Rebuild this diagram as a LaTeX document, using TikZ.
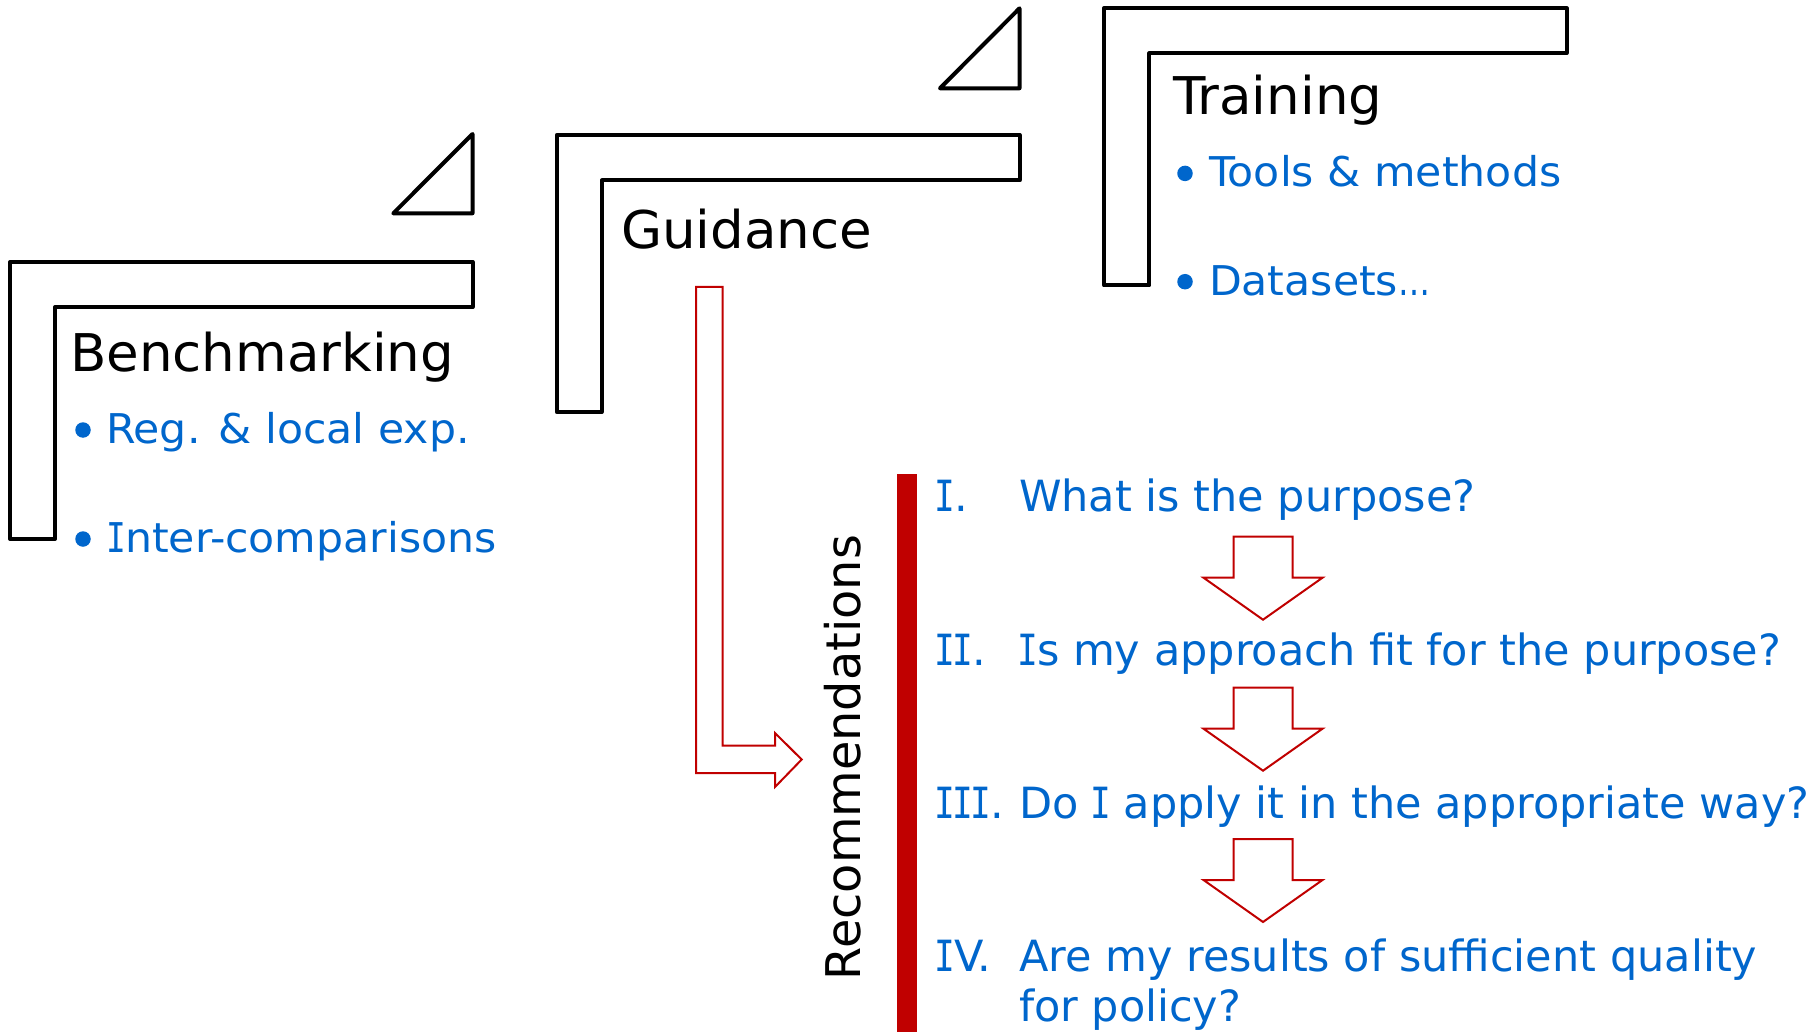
\documentclass[tikz,border=0pt]{standalone}
\usepackage{fontspec}
\setmainfont{DejaVu Sans}
\newfontfamily\titlefont[FakeStretch=1.02]{DejaVu Sans}
\newfontfamily\itemfont[FakeStretch=1.04]{DejaVu Sans}
\newfontfamily\serifIfont{DejaVu Sans Mono}
\newcommand{\serI}{\makebox[0.42em][c]{\scalebox{0.8}[1]{\serifIfont I}}}
\definecolor{txtblue}{HTML}{0066CC}
\definecolor{barred}{HTML}{C00000}
\begin{document}
\begin{tikzpicture}[x=1pt,y=-1pt,
  frame/.style={draw=black,line width=4pt,line join=round},
  title/.style={anchor=base west,inner sep=0pt,outer sep=0pt,font=\titlefont\fontsize{52}{60}\selectfont},
  item/.style={anchor=base west,inner sep=0pt,outer sep=0pt,text=txtblue,font=\itemfont\fontsize{41}{48}\selectfont},
  bul/.style={circle,fill=txtblue,inner sep=0pt,minimum size=15.5pt},
  ques/.style={anchor=base west,inner sep=0pt,outer sep=0pt,text=txtblue,font=\fontsize{43}{50}\selectfont},
  blockarrow/.style={draw=barred,line width=2pt,line join=miter,fill=white}
]
\useasboundingbox (0,0) rectangle (1820,1032);

% L-shaped frames
\draw[frame] (10,262) -- (472.5,262) -- (472.5,307) -- (55,307) -- (55,539) -- (10,539) -- cycle;
\draw[frame] (556.7,135) -- (1019.5,135) -- (1019.5,180.5) -- (601.7,180.5) -- (601.7,412) -- (556.7,412) -- cycle;
\draw[frame] (1104,8.3) -- (1566.5,8.3) -- (1566.5,53.3) -- (1149.3,53.3) -- (1149.3,285.5) -- (1104,285.5) -- cycle;

% triangles
\draw[frame] (472.5,213.3) -- (393.3,213.3) -- (472.5,134) -- cycle;
\draw[frame] (1019.5,88.3) -- (940,88.3) -- (1019.5,8.3) -- cycle;

% titles
\node[title] (bench) at (70,371.7) {Benchmarking};
\node[title] (guid) at (621,248.3) {Guidance};
\node[title] (train) at (1173,115) {Training};

% bullet items
\node[bul] (b1) at (83,430) {};
\node[item] (reg) at (106,443.3) {Reg. \& local exp.};
\node[bul] (b2) at (83,539) {};
\node[item] (inter) at (108,552.3) {\serI nter-comparisons};
\node[bul] (b3) at (1185,173.4) {};
\node[item] (tools) at (1209,186.7) {Tools \& methods};
\node[bul] (b4) at (1185,281.7) {};
\node[item] (data) at (1209,295) {Datasets\scalebox{0.75}[1]{…}};

% red bent block arrow from Guidance to Recommendations
\draw[blockarrow] (696,286.8) -- (722.7,286.8) -- (722.7,745.7) -- (775,745.7) -- (775,733) -- (801.7,759.5) -- (775,787) -- (775,773.2) -- (696,773.2) -- cycle;

% red bar
\fill[barred] (896.7,473.6) rectangle (917.3,1032);

% Recommendations label
\node[anchor=base west,inner sep=0pt,outer sep=0pt,rotate=90,font=\fontsize{47.8}{55}\selectfont] (rec) at (860,980) {Recommendations};

% questions
\node[ques] (n1) at (936,511.7) {\serI.};
\node[ques] (q1) at (1019,511.7) {What is the purpose?};
\node[ques] (n2) at (936,665) {\serI\serI.};
\node[ques] (q2) at (1019,665) {\serI s my approach fit for the purpose?};
\node[ques] (n3) at (936,818.3) {\serI\serI\serI.};
\node[ques] (q3) at (1019,818.3) {Do \serI{} apply it in the appropriate way?};
\node[ques] (n4) at (936,971.7) {\serI V.};
\node[ques] (q4) at (1019,971.7) {Are my results of sufficient quality};
\node[ques] (q4b) at (1019,1021.7) {for policy?};

% down block arrows
\foreach \t in {536.7,687.7,839} {
  \draw[blockarrow] (1233.5,\t) -- (1292.5,\t) -- (1292.5,\t+41) -- (1322.5,\t+41) -- (1263,\t+83) -- (1203.5,\t+41) -- (1233.5,\t+41) -- cycle;
}
\end{tikzpicture}
\end{document}
